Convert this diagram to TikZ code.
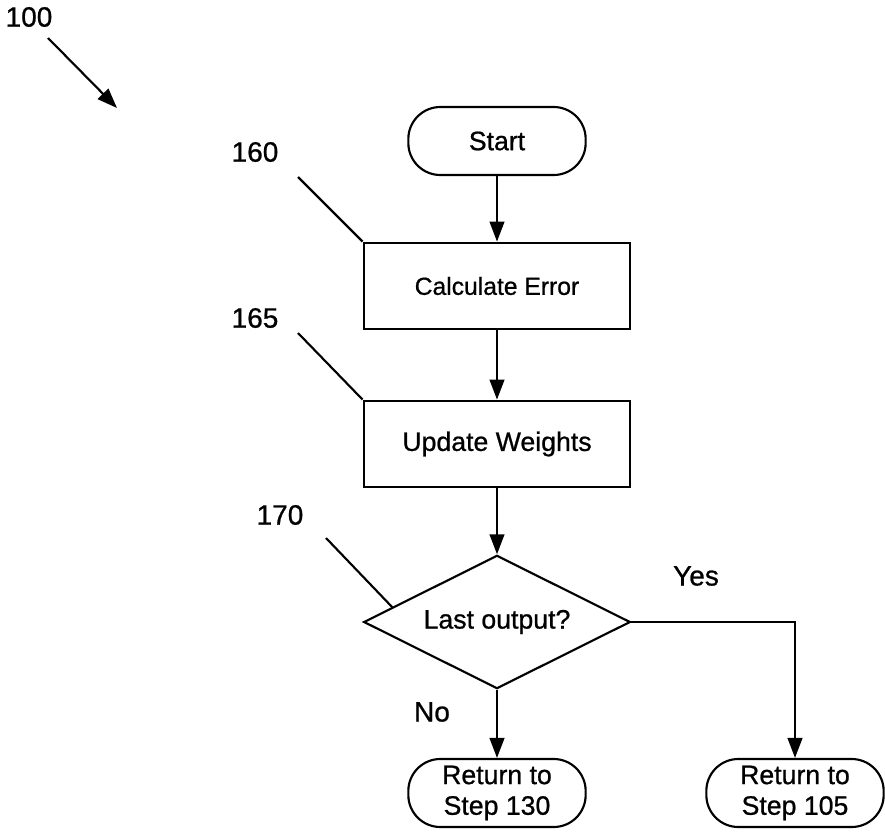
\documentclass[tikz,border=0pt]{standalone}
\usepackage{fontspec}
\setmainfont{Liberation Sans}[FakeBold=0.8]
\usetikzlibrary{positioning,arrows.meta,calc,shapes.geometric}

\begin{document}
\begin{tikzpicture}[
  x=0.75pt, y=-0.75pt,
  >={Triangle[length=15pt,width=11pt]},
  line width=1.6pt,
  term/.style={draw, rectangle, rounded corners=24pt, minimum width=133pt, minimum height=51pt, inner sep=0pt, align=center, font=\fontsize{20}{23}\selectfont},
  proc/.style={draw, rectangle, minimum width=200pt, minimum height=65pt, inner sep=0pt, font=\fontsize{18.5}{22}\selectfont},
  dec/.style={draw, diamond, aspect=2, minimum width=200pt, minimum height=100pt, inner sep=0pt, font=\fontsize{20}{23}\selectfont},
  lbl/.style={inner sep=0pt, font=\fontsize{21}{24}\selectfont}
]

% -----------------------
% Layout parameters (pixels of the page)
% -----------------------
\useasboundingbox (0,0) rectangle (885,832);

\def\xm{497}
\def\xr{795}

\def\yS{141}
\def\yA{286}
\def\yB{444}
\def\yC{622}
\def\yR{793}

% -----------------------
% Flow
% -----------------------
\node[term] (start) at (\xm,\yS) {Start};
\node[proc] (calc) at (\xm,\yA) {Calculate Error};
\node[proc, font=\fontsize{20}{23}\selectfont] (upd) at (\xm,\yB) {Update Weights};
\node[dec] (last) at (\xm,\yC) {Last output?};

\node[term] (ret130) at (\xm,\yR) {Return to\\Step 130};
\node[term] (ret105) at (\xr,\yR) {Return to\\Step 105};

\draw[->] (start) -- (calc);
\draw[->] (calc) -- (upd);
\draw[->] (upd) -- (last);
\draw[->] (last) -- (ret130);
\draw[->] (last.east) -| (ret105.north);

\node[lbl] (yes) at (696,576) {Yes};
\node[lbl] (no) at (432,712) {No};

% -----------------------
% Reference numerals
% -----------------------
\node[lbl] (n100) at (29,17) {100};
\coordinate (a100s) at (48,38);
\coordinate (a100e) at (117,108);
\draw[->] (a100s) -- (a100e);

\node[lbl] (n160) at (255,152) {160};
\coordinate (l160) at (298,177);
\draw (l160) -- (calc.north west);

\node[lbl] (n165) at (255,318) {165};
\coordinate (l165) at (298,333);
\draw (l165) -- (upd.north west);

\node[lbl] (n170) at (280,515) {170};
\coordinate (l170) at (326,538);
\draw (l170) -- ($(last.west)!0.22!(last.north)$);

\end{tikzpicture}
\end{document}
